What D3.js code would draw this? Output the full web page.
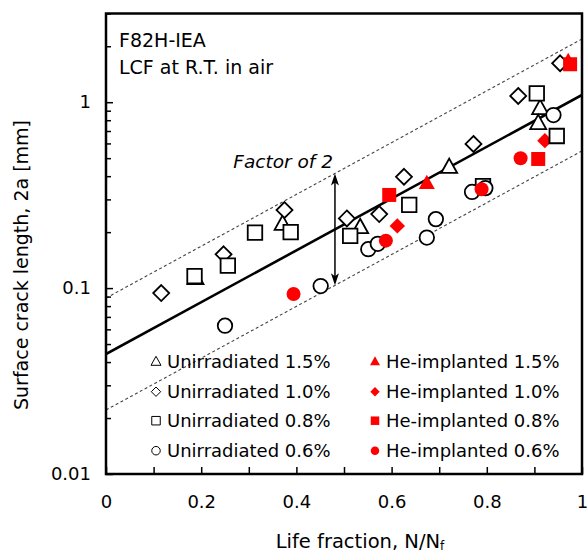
<!DOCTYPE html>
<html lang="en">
<head>
<meta charset="UTF-8">
<title>Surface crack length vs life fraction</title>
<script src="https://d3js.org/d3.v7.min.js"></script>
<style>
  body { margin: 0; background: #fff; }
  svg text { font-family: "DejaVu Sans", Verdana, sans-serif; fill: #000; }
</style>
</head>
<body>
<svg width="587" height="554"></svg>
<script>
// values: life fraction N/Nf and surface crack length 2a [mm]
var u15x = [0.188, 0.371, 0.534, 0.721, 0.912, 0.908];
var u15y = [0.113, 0.221, 0.212, 0.447, 0.927, 0.770];
var he15x = [0.674, 0.971];
var he15y = [0.366, 1.66];

var u10x = [0.116, 0.247, 0.375, 0.506, 0.574, 0.626, 0.772, 0.866, 0.954];
var u10y = [0.094, 0.152, 0.263, 0.237, 0.250, 0.397, 0.596, 1.08, 1.62];
var he10x = [0.612, 0.922];
var he10y = [0.216, 0.621];

var u08x = [0.186, 0.256, 0.313, 0.388, 0.513, 0.637, 0.792, 0.905, 0.947];
var u08y = [0.116, 0.132, 0.199, 0.200, 0.191, 0.280, 0.354, 1.116, 0.658];
var he08x = [0.595, 0.908, 0.975];
var he08y = [0.317, 0.495, 1.60];

var u06x = [0.250, 0.451, 0.551, 0.571, 0.674, 0.693, 0.769, 0.797, 0.940];
var u06y = [0.0628, 0.1026, 0.162, 0.173, 0.187, 0.235, 0.329, 0.345, 0.853];
var he06x = [0.394, 0.588, 0.789, 0.871];
var he06y = [0.093, 0.180, 0.340, 0.499];

// power-law fit through the data, with factor-of-2 bands
var fitX = [0, 1];
var fitY = [0.0442, 1.094];
var bandFactor = 2;
var arrowAt = 0.481;

var xTicks = d3.range(0, 11).map(function(i) { return i / 10; });
var yMajor = [0.01, 0.1, 1];
var yMinor = [0.02, 0.03, 0.04, 0.05, 0.06, 0.07, 0.08, 0.09,
              0.2, 0.3, 0.4, 0.5, 0.6, 0.7, 0.8, 0.9, 2, 3];

var series = [
  {name: "Unirradiated 1.5%", xs: u15x, ys: u15y, shape: "triangle", filled: false, col: 0, row: 0},
  {name: "He-implanted 1.5%", xs: he15x, ys: he15y, shape: "triangle", filled: true, col: 1, row: 0},
  {name: "Unirradiated 1.0%", xs: u10x, ys: u10y, shape: "diamond", filled: false, col: 0, row: 1},
  {name: "He-implanted 1.0%", xs: he10x, ys: he10y, shape: "diamond", filled: true, col: 1, row: 1},
  {name: "Unirradiated 0.8%", xs: u08x, ys: u08y, shape: "square", filled: false, col: 0, row: 2},
  {name: "He-implanted 0.8%", xs: he08x, ys: he08y, shape: "square", filled: true, col: 1, row: 2},
  {name: "Unirradiated 0.6%", xs: u06x, ys: u06y, shape: "circle", filled: false, col: 0, row: 3},
  {name: "He-implanted 0.6%", xs: he06x, ys: he06y, shape: "circle", filled: true, col: 1, row: 3}
];

var pLeft = 106, pRight = 582, pTop = 13.5, pBottom = 474;
var svg = d3.select("svg");

var x = d3.scaleLinear().domain([0, 1]).range([pLeft, pRight]);
var y = d3.scaleLog().domain([0.01, 3]).range([pBottom, pTop]);

// marker shapes, s = overall size in px
function shapePath(shape, s) {
  var h = s / 2;
  if (shape === "square") return "M" + (-h) + "," + (-h) + "h" + s + "v" + s + "h" + (-s) + "Z";
  if (shape === "diamond") { h = s * 0.55; return "M0," + (-h) + "L" + h + ",0L0," + h + "L" + (-h) + ",0Z"; }
  if (shape === "triangle") {
    var th = s * 0.9;
    return "M0," + (-th * 0.6) + "L" + h + "," + (th * 0.4) + "L" + (-h) + "," + (th * 0.4) + "Z";
  }
  return d3.arc()({innerRadius: 0, outerRadius: h, startAngle: 0, endAngle: 2 * Math.PI});
}

svg.append("clipPath").attr("id", "plot")
  .append("rect").attr("x", pLeft).attr("y", pTop)
  .attr("width", pRight - pLeft).attr("height", pBottom - pTop);

// fit line and bands
var lineGen = d3.line()
  .x(function(d) { return x(d[0]); })
  .y(function(d) { return y(d[1]); });

function fitAt(v, k) {
  var r = Math.log(fitY[1] / fitY[0]);
  return fitY[0] * Math.exp(r * v) * k;
}

var lines = svg.append("g").attr("clip-path", "url(#plot)");
[bandFactor, 1 / bandFactor].forEach(function(k) {
  lines.append("path")
    .attr("d", lineGen(fitX.map(function(v) { return [v, fitAt(v, k)]; })))
    .attr("fill", "none").attr("stroke", "#444").attr("stroke-width", 1.1)
    .attr("stroke-dasharray", "3,2.5");
});
lines.append("path")
  .attr("d", lineGen(fitX.map(function(v) { return [v, fitAt(v, 1)]; })))
  .attr("fill", "none").attr("stroke", "#000").attr("stroke-width", 2.6);

// markers
series.forEach(function(s) {
  var pts = s.xs.map(function(v, i) { return [v, s.ys[i]]; });
  var size = s.filled ? 14 : 14.5;
  svg.append("g").selectAll("path")
    .data(pts)
    .enter()
    .append("path")
    .attr("transform", function(d) { return "translate(" + x(d[0]) + "," + y(d[1]) + ")"; })
    .attr("d", shapePath(s.shape, s.shape === "triangle" ? 16 : size))
    .attr("fill", s.filled ? "#ff0000" : "#fff")
    .attr("stroke", s.filled ? "none" : "#000")
    .attr("stroke-width", 1.8);
});

// double arrow for "Factor of 2"
var ax = x(arrowAt), ay1 = y(fitAt(arrowAt, bandFactor)), ay2 = y(fitAt(arrowAt, 1 / bandFactor));
svg.append("line").attr("x1", ax).attr("x2", ax).attr("y1", ay1 + 3).attr("y2", ay2 - 3)
  .attr("stroke", "#000").attr("stroke-width", 1.5);
svg.append("path")
  .attr("d", "M" + ax + "," + ay1 + "l-4,12l4,-3l4,3Z" + "M" + ax + "," + ay2 + "l-4,-12l4,3l4,-3Z")
  .attr("fill", "#000");
svg.append("text").attr("x", 333).attr("y", 168).attr("text-anchor", "end")
  .attr("font-size", 18.5).attr("font-style", "italic").text("Factor of 2");

// axes with inward ticks
var xAxis = d3.axisBottom(x).tickValues(xTicks).tickSize(-7).tickPadding(21)
  .tickFormat(function(d) { return Math.round(d * 10) % 2 === 0 ? d3.format("~g")(d) : ""; });
var gx = svg.append("g").attr("transform", "translate(0," + pBottom + ")").call(xAxis);

var gyMinor = svg.append("g").attr("transform", "translate(" + pLeft + ",0)")
  .call(d3.axisLeft(y).tickValues(yMinor).tickSize(-5).tickFormat(""));
var gy = svg.append("g").attr("transform", "translate(" + pLeft + ",0)")
  .call(d3.axisLeft(y).tickValues(yMajor).tickSize(-7).tickPadding(15)
    .tickFormat(function(d) { return d3.format("~g")(d); }));

[gx, gy, gyMinor].forEach(function(g) {
  g.select(".domain").remove();
  g.selectAll("line").attr("stroke", "#000").attr("stroke-width", 1.5);
  g.selectAll("text").attr("font-size", 18).attr("font-family", null).attr("fill", "#000");
});

// frame
svg.append("rect").attr("x", pLeft).attr("y", pTop)
  .attr("width", pRight - pLeft).attr("height", pBottom - pTop)
  .attr("fill", "none").attr("stroke", "#000").attr("stroke-width", 2.5);

// annotation text
svg.append("text").attr("x", 119).attr("y", 47).attr("font-size", 19).text("F82H-IEA");
svg.append("text").attr("x", 119).attr("y", 74).attr("font-size", 19).text("LCF at R.T. in air");

// legend
var legX = [156, 375], legY = [361.7, 391.7, 420.7, 450.7];
series.forEach(function(s) {
  var lx = legX[s.col], ly = legY[s.row];
  svg.append("path")
    .attr("transform", "translate(" + lx + "," + ly + ")")
    .attr("d", shapePath(s.shape, s.shape === "triangle" ? 10 : 8.5))
    .attr("fill", s.filled ? "#ff0000" : "#fff")
    .attr("stroke", s.filled ? "none" : "#000")
    .attr("stroke-width", 1);
  svg.append("text").attr("x", lx + 11).attr("y", ly + 6.5)
    .attr("font-size", 18).text(s.name);
});

// axis titles
var xt = svg.append("text").attr("x", 360).attr("y", 548).attr("text-anchor", "middle")
  .attr("font-size", 19.5);
xt.append("tspan").text("Life fraction, N/N");
xt.append("tspan").attr("font-size", 12).attr("dy", 2).text("f");

svg.append("text").attr("transform", "translate(28,265) rotate(-90)")
  .attr("text-anchor", "middle").attr("font-size", 19)
  .text("Surface crack length, 2a [mm]");
</script>
</body>
</html>
